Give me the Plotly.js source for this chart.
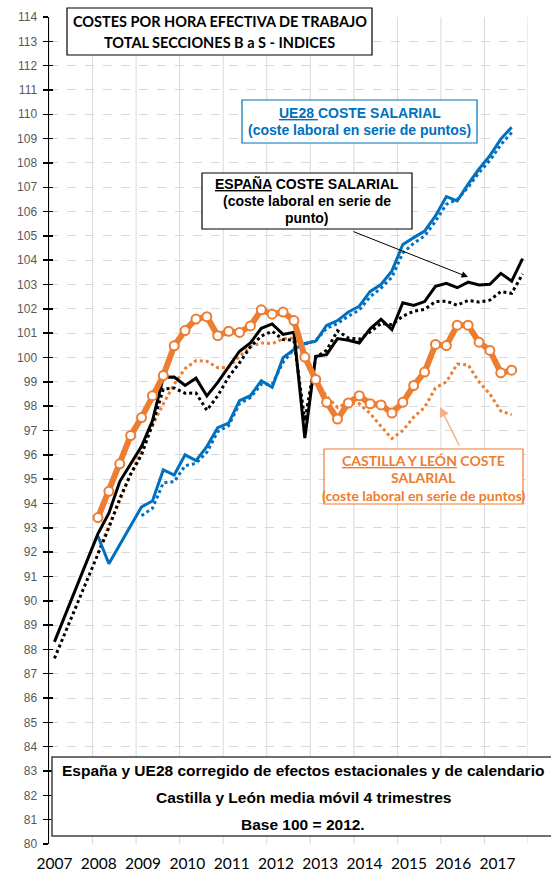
<!DOCTYPE html>
<html><head><meta charset="utf-8">
<script src="https://cdn.plot.ly/plotly-3.0.1.min.js"></script>
<style>html,body{margin:0;padding:0;background:#fff;} #chart{width:551px;height:877px;}</style>
</head><body><div id="chart"></div>
<script>
// ---- DATA (quarterly, base 100 = 2012) ----
const years = ['2007','2008','2009','2010','2011','2012','2013','2014','2015','2016','2017'];
const quarterNames = ['T1','T2','T3','T4'];

// España coste salarial (solid black), from 2007 T1
const espSalarial = [88.31, 89.40, 90.50, 91.65, 92.76, 93.60, 94.90, 95.60, 96.35, 97.40,
  99.19, 99.20, 98.85, 99.15, 98.42, 98.98, 99.63, 100.26, 100.60, 101.20,
  101.38, 100.95, 101.04, 96.69, 100.05, 100.12, 100.78, 100.71, 100.60, 101.18,
  101.57, 101.15, 102.25, 102.14, 102.30, 102.93, 103.05, 102.87, 103.10, 102.98,
  103.01, 103.46, 103.14, 104.07];
const espSalarialStart = '2007 T1';

// España coste laboral (dotted black), from 2007 T1
const espLaboral = [87.63, 88.70, 89.75, 90.80, 91.90, 93.00, 94.20, 95.20, 96.00, 97.25,
  98.70, 98.75, 98.53, 98.54, 97.83, 98.43, 99.20, 99.78, 100.44, 100.88,
  101.08, 100.74, 100.71, 97.40, 100.00, 100.30, 101.10, 100.80, 100.75, 101.05,
  101.40, 101.35, 101.70, 101.90, 101.98, 102.30, 102.32, 102.15, 102.35, 102.28,
  102.36, 102.71, 102.64, 103.43];
const espLaboralStart = '2007 T1';

// UE28 coste salarial (solid blue), from 2008 T1
const ueSalarial = [92.65, 91.52, 92.30, 93.10, 93.86, 94.10, 95.38, 95.17, 96.00,
  95.76, 96.34, 97.12, 97.30, 98.23, 98.43, 99.05, 98.78, 99.99, 100.33,
  100.58, 100.67, 101.32, 101.52, 101.87, 102.11, 102.72, 103.00, 103.56, 104.65,
  104.93, 105.20, 105.82, 106.62, 106.44, 107.13, 107.75, 108.30, 108.98, 109.47];
const ueSalarialStart = '2008 T1';

// UE28 coste laboral (dotted blue), from 2009 T1
const ueLaboral = [93.50, 93.80, 94.85, 94.90, 95.55, 95.65, 96.10, 96.95, 97.20, 98.10,
  98.35, 98.90, 98.90, 99.80, 100.35, 100.55, 100.70, 101.20, 101.40, 101.70,
  101.95, 102.50, 102.85, 103.30, 104.30, 104.70, 105.00, 105.60, 106.30, 106.50,
  107.00, 107.60, 108.10, 108.75, 109.25];
const ueLaboralStart = '2009 T1';

// Castilla y León coste salarial (thick orange with markers), from 2008 T1
const cylSalarial = [93.42, 94.50, 95.63, 96.79, 97.53, 98.43, 99.26, 100.48, 101.11, 101.58,
  101.68, 100.90, 101.08, 101.03, 101.30, 101.96, 101.78, 101.87, 101.52, 100.02,
  99.10, 98.16, 97.47, 98.13, 98.43, 98.10, 98.05, 97.72, 98.16, 98.85,
  99.40, 100.54, 100.49, 101.33, 101.33, 100.63, 100.29, 99.37, 99.48];
const cylSalarialStart = '2008 T1';

// Castilla y León coste laboral (dotted orange), from 2008 T1
const cylLaboral = [91.95, 93.10, 94.10, 95.20, 96.20, 97.20, 98.10, 98.90, 99.55, 99.87,
  99.85, 99.58, 99.60, 100.05, 100.45, 100.60, 100.57, 100.77, 100.80, 100.10,
  99.10, 98.40, 97.95, 98.15, 98.10, 97.70, 97.17, 96.67, 97.00, 97.55,
  97.95, 98.75, 99.00, 99.73, 99.70, 99.00, 98.50, 97.80, 97.65];
const cylLaboralStart = '2008 T1';

const baseValue = 100;

// ---- build ----
const quarters = [];
years.forEach(y => quarterNames.forEach(q => quarters.push(y + ' ' + q)));
const xFor = (start, arr) => { const s = quarters.indexOf(start); return arr.map((_, k) => s + k); };
const textFor = (start, arr) => { const s = quarters.indexOf(start); return arr.map((_, k) => quarters[s + k]); };

const ORANGE = '#ED7D31', BLUE = '#0070C0', BLACK = '#000000';
const dotted = '3px,3px';

function tr(arr, start, color, width, dash, extra) {
  return Object.assign({
    type: 'scatter', mode: 'lines', x: xFor(start, arr), y: arr, text: textFor(start, arr),
    line: {color: color, width: width, dash: dash}, hoverinfo: 'text+y'
  }, extra || {});
}

const data = [
  tr(cylLaboral, cylLaboralStart, ORANGE, 3, dotted),
  tr(espLaboral, espLaboralStart, BLACK, 3, dotted),
  tr(ueLaboral, ueLaboralStart, BLUE, 3, dotted),
  tr(ueSalarial, ueSalarialStart, BLUE, 3, 'solid'),
  tr(espSalarial, espSalarialStart, BLACK, 3, 'solid'),
  tr(cylSalarial, cylSalarialStart, ORANGE, 6, 'solid', {
    mode: 'lines+markers',
    marker: {symbol: 'circle', size: 9, color: '#FFFFFF', line: {color: ORANGE, width: 2}}
  }),
  // empty helper trace so the inner-tick y axis is drawn
  {type: 'scatter', mode: 'lines', x: [null], y: [null], yaxis: 'y2', hoverinfo: 'skip', line: {width: 0}}
];

// plot geometry (pixels)
const L = 49, R = 528, T = 17, B = 844, W = 551, H = 877;
const px = x => (x - L) / (R - L);
const py = y => (B - y) / (B - T);

const nQ = quarters.length;
const boundaries = [];
for (let k = 0; k <= years.length; k++) boundaries.push(k * 4 - 0.5);
const labelPos = years.map((_, k) => k * 4.07);

const yMin = 80, yMax = 114;

const shapes = [];
const annotations = [];
// vertical year gridlines
boundaries.forEach(b => shapes.push({type: 'line', xref: 'x', yref: 'paper', x0: b, x1: b, y0: 0, y1: 1,
  line: {color: '#D9D9D9', width: 1}, layer: 'below'}));

function box(x0, y0, x1, y1, color, w) {
  shapes.push({type: 'rect', xref: 'paper', yref: 'paper', x0: px(x0), x1: px(x1), y0: py(y1), y1: py(y0),
    line: {color: color, width: w}, fillcolor: '#FFFFFF', layer: 'above'});
}
function txt(x, y, text, font) {
  annotations.push({xref: 'paper', yref: 'paper', x: px(x), y: py(y), xanchor: 'center', yanchor: 'middle',
    text: text, showarrow: false, font: font});
}
const fTitle = {family: 'Lato, Liberation Sans, sans-serif', size: 14.5, color: '#000'};
const fArial = c => ({family: 'Liberation Sans, Arial, sans-serif', size: 14, color: c});
const fCyl = {family: 'Lato, Liberation Sans, sans-serif', size: 14, color: ORANGE};

// title box
box(67, 8, 372, 55, '#000', 1.2);
txt(219.5, 21, '<b>COSTES POR HORA EFECTIVA DE TRABAJO</b>', fTitle);
txt(219.5, 42.5, '<b>TOTAL SECCIONES B a S - INDICES</b>', fTitle);

// UE28 box
box(242, 100, 477, 143, BLUE, 1.2);
txt(359.5, 113, '<b><u>UE28 </u>COSTE SALARIAL</b>', fArial(BLUE));
txt(359.5, 129.5, '<b>(coste laboral en serie de puntos)</b>', fArial(BLUE));

// España box
box(202, 173, 412, 229, '#000', 1.2);
txt(307, 183.5, '<b><u>ESPAÑA</u> COSTE SALARIAL</b>', fArial('#000'));
txt(307, 201, '<b>(coste laboral en serie de</b>', fArial('#000'));
txt(307, 218, '<b>punto)</b>', fArial('#000'));

// CyL box
box(324, 449, 523, 504, ORANGE, 1.2);
txt(423.5, 460, '<b><u>CASTILLA Y LEÓN</u> COSTE</b>', fCyl);
txt(423.5, 477.5, '<b>SALARIAL</b>', fCyl);
txt(423.5, 495, '<b>(coste laboral en serie de puntos)</b>', fCyl);

// bottom note box
box(52, 757, 560, 836, '#404040', 1.5);
const fNote = {family: 'Liberation Sans, Arial, sans-serif', size: 15.5, color: '#000'};
txt(303, 770.5, '<b>España y UE28 corregido de efectos estacionales y de calendario</b>', fNote);
txt(303, 797.5, '<b>Castilla y León media móvil 4 trimestres</b>', fNote);
txt(303, 824, '<b>Base 100 = 2012.</b>', fNote);

// arrows
annotations.push({xref: 'paper', yref: 'paper', x: px(468), y: py(277), ax: 352 - 468, ay: 231 - 277,
  axref: 'pixel', ayref: 'pixel', text: '', showarrow: true, arrowhead: 2, arrowsize: 1.3, arrowwidth: 1, arrowcolor: '#000'});
annotations.push({xref: 'paper', yref: 'paper', x: px(440), y: py(407), ax: 460 - 440, ay: 447 - 407,
  axref: 'pixel', ayref: 'pixel', text: '', showarrow: true, arrowhead: 2, arrowsize: 1.3, arrowwidth: 1.5, arrowcolor: '#F4B183'});

const layout = {
  width: W, height: H,
  margin: {l: L, r: W - R, t: T, b: H - B, pad: 0},
  paper_bgcolor: '#FFFFFF', plot_bgcolor: '#FFFFFF',
  showlegend: false,
  // main x axis: year labels
  xaxis: {
    range: [-0.5, nQ - 0.5], tickmode: 'array', tickvals: labelPos, ticktext: years,
    showgrid: false, zeroline: false, showline: false, ticks: '',
    tickfont: {family: 'Lato, Liberation Sans, sans-serif', size: 15.5, color: '#000'},
    ticklabelstandoff: 8, fixedrange: true
  },
  // red base line at 100 with year-boundary ticks
  xaxis2: {
    overlaying: 'x', anchor: 'free', position: (baseValue - yMin) / (yMax - yMin),
    range: [-0.5, nQ - 0.5], showline: true, linecolor: '#FF0000', linewidth: 2,
    ticks: 'outside', tickcolor: '#FF0000', tickwidth: 2, ticklen: 5,
    tickmode: 'array', tickvals: boundaries, showticklabels: false,
    showgrid: false, zeroline: false, layer: 'below traces'
  },
  yaxis: {
    range: [yMin, yMax], tickmode: 'linear', tick0: yMin, dtick: 1,
    showline: true, linecolor: '#000', linewidth: 1.5,
    ticks: 'outside', ticklen: 5, tickcolor: '#000', tickwidth: 1.5,
    tickfont: {family: 'Liberation Sans, Arial, sans-serif', size: 12, color: '#595959'},
    ticklabelstandoff: 3,
    showgrid: true, gridcolor: '#D9D9D9', griddash: 'dash', gridwidth: 1, zeroline: false, fixedrange: true
  },
  // inner half of the crossing tick marks
  yaxis2: {
    overlaying: 'y', anchor: 'x', side: 'left',
    range: [yMin, yMax], tickmode: 'linear', tick0: yMin, dtick: 1,
    ticks: 'inside', ticklen: 4, tickcolor: '#000', tickwidth: 1.5,
    showticklabels: false, showgrid: false, showline: false, zeroline: false
  },
  shapes: shapes,
  annotations: annotations
};

Plotly.newPlot('chart', data, layout, {displayModeBar: false, staticPlot: true});
</script>
</body></html>
